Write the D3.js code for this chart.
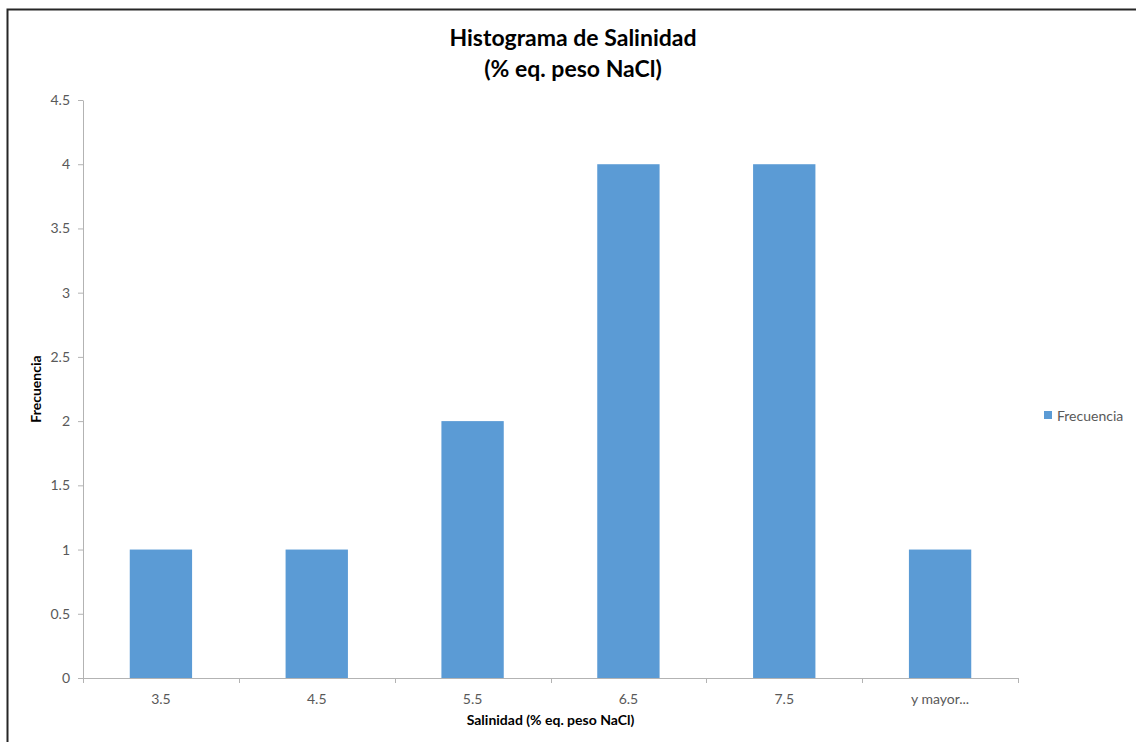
<!DOCTYPE html>
<html>
<head>
<meta charset="utf-8">
<script src="https://cdn.jsdelivr.net/npm/d3@7"></script>
<style>
  html, body { margin: 0; padding: 0; background: #fff; }
  svg { display: block; }
</style>
</head>
<body>
<svg id="chart" width="1136" height="742"></svg>
<script>
// Histogram bins (upper limits) and their counts
const categories = ["3.5", "4.5", "5.5", "6.5", "7.5", "y mayor..."];
const frecuencia = [1, 1, 2, 4, 4, 1];
const yTicks = [0, 0.5, 1, 1.5, 2, 2.5, 3, 3.5, 4, 4.5];

const svg = d3.select("#chart");
const W = 1136, H = 742;
const margin = { left: 83, right: 118, top: 100, bottom: 64 };
const plotRight = W - margin.right;
const plotBottom = H - margin.bottom;

const font = "Lato, 'Open Sans', sans-serif";
const barColor = "#5b9bd5";
const axisColor = "#b3b3b3";
const textColor = "#595959";

// Chart area frame (left and top edges)
svg.append("path")
  .attr("d", `M7.5,${H} L7.5,9.5 L${W},9.5`)
  .attr("fill", "none").attr("stroke", "#262626").attr("stroke-width", 2);

const x = d3.scaleBand().domain(categories).range([margin.left, plotRight]).paddingInner(0.6).paddingOuter(0.3);
const xEdges = d3.scaleBand().domain(categories).range([margin.left, plotRight]).padding(0);
const y = d3.scaleLinear().domain([0, 4.5]).range([plotBottom, margin.top]);

// Bars
svg.append("g").selectAll("rect")
  .data(categories.map((c, i) => ({ c, v: frecuencia[i] })))
  .join("rect")
  .attr("x", d => x(d.c))
  .attr("y", d => y(d.v))
  .attr("width", x.bandwidth())
  .attr("height", d => y(0) - y(d.v))
  .attr("fill", barColor);

// Y axis
const yAxis = svg.append("g")
  .attr("transform", `translate(${margin.left},0)`)
  .call(d3.axisLeft(y).tickValues(yTicks).tickFormat(d3.format("")).tickSize(5).tickSizeOuter(0).tickPadding(8));
yAxis.select(".domain").attr("stroke", axisColor);
yAxis.selectAll(".tick line").attr("stroke", axisColor);
yAxis.selectAll(".tick text").attr("fill", textColor).style("font", `14px ${font}`);

// X axis: boundary ticks between bins, labels centred in each bin
const xAxisG = svg.append("g").attr("transform", `translate(0,${plotBottom})`);
xAxisG.append("line")
  .attr("x1", margin.left).attr("x2", plotRight)
  .attr("y1", 0.5).attr("y2", 0.5)
  .attr("stroke", axisColor);
const boundaries = categories.map(c => xEdges(c)).concat([xEdges.range()[1]]);
xAxisG.selectAll("line.b")
  .data(boundaries)
  .join("line").attr("class", "b")
  .attr("x1", d => Math.round(d) + 0.5).attr("x2", d => Math.round(d) + 0.5)
  .attr("y1", 0).attr("y2", 5)
  .attr("stroke", axisColor);
xAxisG.selectAll("text")
  .data(categories)
  .join("text")
  .attr("x", d => xEdges(d) + xEdges.bandwidth() / 2)
  .attr("y", 26)
  .attr("text-anchor", "middle")
  .attr("fill", textColor)
  .style("font", `14px ${font}`)
  .text(d => d);

// Title
const title = svg.append("text")
  .attr("text-anchor", "middle")
  .attr("fill", "#000")
  .style("font", `bold 23px ${font}`);
title.append("tspan").attr("x", 573).attr("y", 46).text("Histograma de Salinidad");
title.append("tspan").attr("x", 573).attr("y", 77).text("(% eq. peso NaCl)");

// Axis titles
svg.append("text")
  .attr("transform", `translate(41,${(margin.top + plotBottom) / 2}) rotate(-90)`)
  .attr("text-anchor", "middle")
  .attr("fill", "#000")
  .style("font", `bold 14px ${font}`)
  .text("Frecuencia");

svg.append("text")
  .attr("x", (margin.left + plotRight) / 2)
  .attr("y", 725)
  .attr("text-anchor", "middle")
  .attr("fill", "#000")
  .style("font", `bold 14px ${font}`)
  .text("Salinidad (% eq. peso NaCl)");

// Legend
const legend = svg.append("g").attr("transform", "translate(1044,411)");
legend.append("rect").attr("width", 8).attr("height", 8).attr("fill", barColor);
legend.append("text")
  .attr("x", 13).attr("y", 10)
  .attr("fill", textColor)
  .style("font", `14px ${font}`)
  .text("Frecuencia");
</script>
</body>
</html>
